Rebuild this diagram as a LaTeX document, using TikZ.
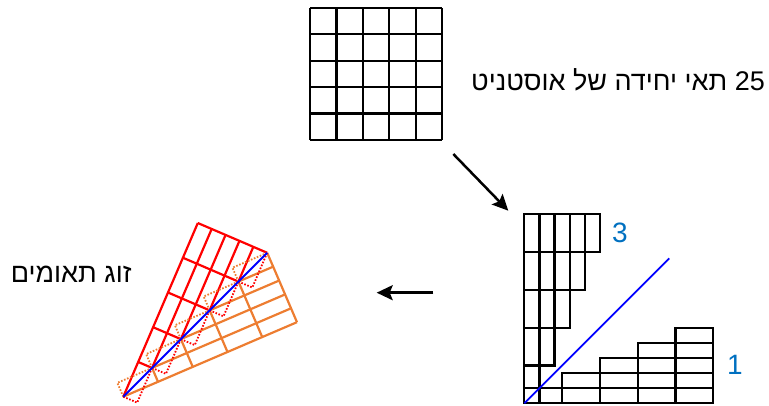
\documentclass[tikz,border=0pt]{standalone}
\usepackage{fontspec}
\setmainfont{Liberation Sans}
\newfontfamily\hebfont[Script=Hebrew]{Liberation Sans}
\TeXXeTstate=1
\usetikzlibrary{arrows.meta}
\definecolor{ink}{HTML}{000000}
\definecolor{twinred}{HTML}{FF0000}
\definecolor{twinorange}{HTML}{ED7D31}
\definecolor{planeblue}{HTML}{0000FF}
\definecolor{varblue}{HTML}{0070C0}
\newcommand{\cellw}{15.1}
\newcommand{\cellh}{37.8}
\tikzset{
  cellline/.style={draw=ink,line width=2.2pt},
  redline/.style={draw=twinred,line width=2.2pt},
  orangeline/.style={draw=twinorange,line width=2.2pt},
  reddot/.style={draw=twinred,line width=1.8pt,dash pattern=on 1.6pt off 1.6pt},
  orangedot/.style={draw=twinorange,line width=1.8pt,dash pattern=on 1.6pt off 1.6pt},
  plane/.style={draw=planeblue,line width=1.8pt},
  flow/.style={-{Stealth[length=16pt,width=15pt,inset=3pt]},line width=2.5pt,draw=ink},
  hebtext/.style={font=\fontsize{27}{31}\selectfont,inner sep=0pt},
  varlabel/.style={font=\fontsize{28}{32}\selectfont,text=varblue,inner sep=0pt}
}

\begin{document}
\begin{tikzpicture}[x=1pt,y=1pt]
  \useasboundingbox (0,0) rectangle (769,405);

  \begin{scope}[shift={(310,265)}]
    \foreach \n in {0,...,5} {
      \draw[cellline] ({\n*26.4},0) -- ({\n*26.4},132);
      \draw[cellline] (0,{\n*26.4}) -- (132,{\n*26.4});
    }
  \end{scope}
  \node[hebtext,anchor=east] (lblAust) at (765,325) {\hebfont\beginR\beginL 25\endL{} תאי יחידה של אוסטניט\endR};

  \coordinate (arrAs) at (453.3,251);
  \coordinate (arrAe) at (508.3,194.3);
  \draw[flow] (arrAs) -- (arrAe);

  \begin{scope}[shift={(524.3,1.7)}]
    \foreach \k in {1,...,5}
      \foreach \i in {1,...,\k}
        \draw[cellline] ({(\i-1)*\cellw},{(\k-1)*\cellh}) rectangle ({\i*\cellw},{\k*\cellh});
    \foreach \c in {1,...,5}
      \foreach \j in {1,...,\c}
        \draw[cellline] ({(\c-1)*\cellh},{(\j-1)*\cellw}) rectangle ({\c*\cellh},{\j*\cellw});
    \draw[plane] (0,0) -- (45:205);
  \end{scope}
  \node[varlabel] (lblThree) at (620,172) {3};
  \node[varlabel] (lblOne) at (735,40) {1};

  \coordinate (arrBs) at (433.3,112.3);
  \coordinate (arrBe) at (376.7,112.3);
  \draw[flow] (arrBs) -- (arrBe);

  \pgfmathsetmacro{\twist}{atan(\cellh/\cellw)-45}
  \begin{scope}[shift={(123.3,8.3)},rotate=-\twist]
    \foreach \i in {0,...,4}
      \draw[redline] ({\i*\cellw},{\i*\cellh}) -- ({\i*\cellw},{5*\cellh});
    \foreach \j in {1,...,5}
      \draw[redline] (0,{\j*\cellh}) -- ({\j*\cellw},{\j*\cellh});
  \end{scope}
  \begin{scope}[shift={(123.3,8.3)},rotate=\twist]
    \foreach \i in {1,...,5}
      \draw[orangeline] ({\i*\cellh},0) -- ({\i*\cellh},{\i*\cellw});
    \foreach \j in {0,...,4}
      \draw[orangeline] ({\j*\cellh},{\j*\cellw}) -- ({5*\cellh},{\j*\cellw});
    \foreach \k in {1,...,5}
      \draw[orangedot] ({(\k-1)*\cellh},{(\k-1)*\cellw}) -- ({(\k-1)*\cellh},{\k*\cellw}) -- ({\k*\cellh},{\k*\cellw});
  \end{scope}
  \begin{scope}[shift={(123.3,8.3)},rotate=-\twist]
    \foreach \k in {1,...,5}
      \draw[reddot] ({(\k-1)*\cellw},{(\k-1)*\cellh}) -- ({\k*\cellw},{(\k-1)*\cellh}) -- ({\k*\cellw},{\k*\cellh});
  \end{scope}
  \draw[plane] (123.3,8.3) -- ++(45:203.5);
  \node[hebtext,anchor=east] (lblTwin) at (131.7,131) {\hebfont\beginR זוג תאומים\endR};
\end{tikzpicture}
\end{document}
